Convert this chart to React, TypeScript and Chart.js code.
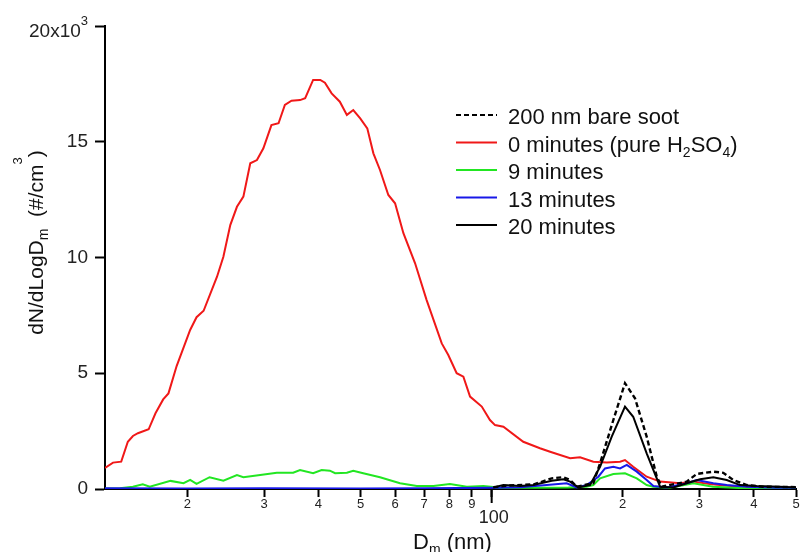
import React, { useEffect, useRef } from 'react';
import { Chart, registerables } from 'chart.js';

Chart.register(...registerables);

const FONT = '"Liberation Sans", Arial, Helvetica, sans-serif';

// ---- axis ticks ----
const xTickValues = [20, 30, 40, 50, 60, 70, 80, 90, 100, 200, 300, 400, 500];
const yTickValues = [0, 5, 10, 15, 20];
const xMin = 12.94;
const xMax = 500;

// ---- data (D in nm, dN/dlogD in units of 10^3 #/cm3) ----
const redD = [12.94, 13.5, 14.1, 14.6, 15.0, 15.4, 16.3, 16.9, 17.6, 18.1, 18.9, 20.3, 21.0, 21.8, 23.4, 24.2, 25.1, 26.0, 26.9, 27.9, 28.9, 29.9, 31.2, 32.4, 33.5, 34.7, 36.3, 37.3, 38.9, 40.4, 41.4, 42.9, 44.8, 46.5, 48.1, 49.9, 51.8, 53.5, 55.4, 57.9, 60.0, 62.7, 66.7, 70.9, 76.8, 79.5, 83.1, 86.1, 89.2, 94.9, 99.1, 101.8, 106.4, 118.2, 129.1, 136.2, 151.4, 159.6, 171.2, 183.8, 197.2, 202.4, 211.4, 227.0, 243.7, 270.8, 290.0, 320, 360, 420, 500];
const redN = [0.91, 1.14, 1.18, 2.04, 2.29, 2.41, 2.58, 3.27, 3.87, 4.13, 5.31, 6.87, 7.42, 7.70, 9.17, 10.03, 11.40, 12.19, 12.63, 14.07, 14.21, 14.72, 15.72, 15.80, 16.59, 16.77, 16.80, 16.88, 17.67, 17.67, 17.55, 17.09, 16.73, 16.16, 16.37, 16.01, 15.58, 14.50, 13.78, 12.70, 12.34, 11.05, 9.75, 8.16, 6.29, 5.79, 5.00, 4.85, 3.99, 3.56, 2.98, 2.76, 2.69, 2.04, 1.76, 1.61, 1.33, 1.37, 1.18, 1.14, 1.18, 1.25, 0.96, 0.53, 0.32, 0.25, 0.32, 0.2, 0.12, 0.08, 0.05];

const greenD = [12.94, 14.0, 15.0, 15.8, 16.4, 18.3, 19.6, 20.3, 21.0, 22.5, 24.2, 26.0, 26.9, 29.4, 32.1, 35.0, 36.3, 38.9, 40.7, 42.5, 43.7, 46.5, 48.1, 50.7, 55.4, 61.6, 67.3, 73.5, 80.2, 87.7, 95.7, 105, 125, 150, 165, 171.2, 177.4, 190.3, 202.4, 215.4, 227.0, 234.8, 256.8, 290.6, 322.4, 380, 500];
const greenN = [0.02, 0.03, 0.1, 0.2, 0.1, 0.35, 0.25, 0.39, 0.22, 0.51, 0.36, 0.60, 0.51, 0.60, 0.70, 0.70, 0.82, 0.68, 0.82, 0.79, 0.68, 0.70, 0.79, 0.68, 0.51, 0.25, 0.13, 0.13, 0.22, 0.1, 0.13, 0.05, 0.05, 0.06, 0.1, 0.17, 0.46, 0.65, 0.68, 0.46, 0.17, 0.1, 0.05, 0.25, 0.1, 0.03, 0.02];

const blueD = [12.94, 20, 30, 50, 70, 100, 116.2, 133.8, 148.7, 156.8, 165.3, 175.8, 182.1, 190.3, 197.2, 204.3, 215.4, 227.0, 235.2, 252.4, 280.5, 295.8, 322.9, 346.6, 385.5, 450, 500];
const blueN = [0.03, 0.02, 0.03, 0.02, 0.03, 0.05, 0.08, 0.17, 0.25, 0.07, 0.17, 0.53, 0.89, 0.96, 0.89, 1.04, 0.75, 0.39, 0.13, 0.07, 0.25, 0.39, 0.25, 0.17, 0.1, 0.05, 0.05];

const blackD = [100.9, 106.4, 116.2, 124.6, 137.4, 146.1, 151.4, 158.1, 168.2, 177.4, 188.7, 202.4, 211.4, 227.0, 243.7, 261.4, 280.5, 301.1, 322.9, 346.6, 372.0, 406.2, 459.6, 500];
const blackN = [0.07, 0.17, 0.13, 0.17, 0.36, 0.42, 0.32, 0.07, 0.17, 0.96, 2.26, 3.56, 3.12, 1.54, 0.1, 0.07, 0.25, 0.42, 0.51, 0.39, 0.17, 0.13, 0.1, 0.07];

const sootD = [100.9, 110, 125, 137.4, 146.1, 151.4, 156.8, 171.2, 177.4, 190.3, 202.4, 213.4, 227.0, 239.5, 245.8, 280.5, 295.8, 322.9, 340.4, 358.9, 385.5, 420, 500];
const sootN = [0.08, 0.15, 0.2, 0.46, 0.51, 0.39, 0.1, 0.25, 1.11, 2.98, 4.57, 3.92, 2.26, 0.53, 0.1, 0.32, 0.65, 0.75, 0.70, 0.39, 0.17, 0.1, 0.08];

const RED = '#f01818';
const GREEN = '#22e622';
const BLUE = '#1818e8';
const BLACK = '#000000';

type Seg = { t: string; s: number; dy: number };

const legendItems: { segs: Seg[]; color: string; dash: number[] }[] = [
  { segs: [{ t: '200 nm bare soot', s: 22, dy: 0 }], color: BLACK, dash: [5, 3] },
  {
    segs: [
      { t: '0 minutes (pure H', s: 22, dy: 0 },
      { t: '2', s: 14, dy: 5 },
      { t: 'SO', s: 22, dy: 0 },
      { t: '4', s: 14, dy: 5 },
      { t: ')', s: 22, dy: 0 },
    ],
    color: RED,
    dash: [],
  },
  { segs: [{ t: '9 minutes', s: 22, dy: 0 }], color: GREEN, dash: [] },
  { segs: [{ t: '13 minutes', s: 22, dy: 0 }], color: BLUE, dash: [] },
  { segs: [{ t: '20 minutes', s: 22, dy: 0 }], color: BLACK, dash: [] },
];

const yTitle: Seg[] = [
  { t: 'dN/dLogD', s: 21, dy: 0 },
  { t: 'm', s: 14, dy: 5 },
  { t: '  (#/cm', s: 21, dy: 0 },
  { t: '3', s: 13, dy: -21 },
  { t: ')', s: 21, dy: 0 },
];
const xTitle: Seg[] = [
  { t: 'D', s: 22, dy: 0 },
  { t: 'm', s: 14, dy: 5 },
  { t: ' (nm)', s: 22, dy: 0 },
];
const yTopLabel: Seg[] = [
  { t: '20x10', s: 19, dy: 0 },
  { t: '3', s: 13, dy: -12 },
];

function richWidth(ctx: CanvasRenderingContext2D, segs: Seg[]) {
  let w = 0;
  for (const g of segs) {
    ctx.font = `${g.s}px ${FONT}`;
    w += ctx.measureText(g.t).width;
  }
  return w;
}
function drawRich(ctx: CanvasRenderingContext2D, segs: Seg[], x: number, y: number) {
  let cx = x;
  for (const g of segs) {
    ctx.font = `${g.s}px ${FONT}`;
    ctx.fillText(g.t, cx, y + g.dy);
    cx += ctx.measureText(g.t).width;
  }
}

const pts = (xs: number[], ys: number[]) => xs.map((x, i) => ({ x, y: ys[i] }));

const annotatePlugin = {
  id: 'annotate',
  afterDraw(chart: any) {
    const ctx: CanvasRenderingContext2D = chart.ctx;
    const xs = chart.scales.x;
    const ys = chart.scales.y;
    const area = chart.chartArea;
    ctx.save();
    ctx.fillStyle = '#111';
    ctx.textAlign = 'left';
    ctx.textBaseline = 'alphabetic';

    // longer major tick at 100
    const x100 = xs.getPixelForValue(100);
    ctx.strokeStyle = '#000';
    ctx.lineWidth = 2;
    ctx.beginPath();
    ctx.moveTo(x100, area.bottom);
    ctx.lineTo(x100, area.bottom + 14);
    ctx.stroke();

    // "100" label
    ctx.font = `18px ${FONT}`;
    ctx.textAlign = 'center';
    ctx.fillStyle = '#222';
    ctx.fillText('100', x100 + 2, area.bottom + 34);
    ctx.textAlign = 'left';

    // top y label 20x10^3
    const y20 = ys.getPixelForValue(20);
    const wTop = richWidth(ctx, yTopLabel);
    drawRich(ctx, yTopLabel, 88 - wTop, y20 + 11);

    // x title
    ctx.fillStyle = '#111';
    const wx = richWidth(ctx, xTitle);
    drawRich(ctx, xTitle, (area.left + area.right) / 2 + 2 - wx / 2, 549);

    // y title rotated
    const wy = richWidth(ctx, yTitle);
    ctx.save();
    ctx.translate(43, (area.top + area.bottom) / 2 - 15);
    ctx.rotate(-Math.PI / 2);
    drawRich(ctx, yTitle, -wy / 2, 0);
    ctx.restore();

    // legend
    legendItems.forEach((it, i) => {
      const ly = 115 + i * 27.5;
      ctx.strokeStyle = it.color;
      ctx.lineWidth = 2;
      ctx.setLineDash(it.dash);
      ctx.beginPath();
      ctx.moveTo(456, ly);
      ctx.lineTo(497, ly);
      ctx.stroke();
      ctx.setLineDash([]);
      ctx.fillStyle = '#111';
      drawRich(ctx, it.segs, 508, ly + 9);
    });
    ctx.restore();
  },
};

export default function App() {
  const ref = useRef<HTMLCanvasElement>(null);
  useEffect(() => {
    document.body.style.margin = '0';
    const common = { pointRadius: 0, borderWidth: 2, tension: 0, fill: false };
    const chart = new Chart(ref.current as HTMLCanvasElement, {
      type: 'line',
      data: {
        datasets: [
          { ...common, label: '20 minutes', data: pts(blackD, blackN), borderColor: BLACK },
          { ...common, label: '200 nm bare soot', data: pts(sootD, sootN), borderColor: BLACK, borderDash: [5, 3], borderWidth: 2.4 },
          { ...common, label: '13 minutes', data: pts(blueD, blueN), borderColor: BLUE },
          { ...common, label: '9 minutes', data: pts(greenD, greenN), borderColor: GREEN },
          { ...common, label: '0 minutes (pure H2SO4)', data: pts(redD, redN), borderColor: RED },
        ],
      } as any,
      options: {
        animation: false,
        responsive: false,
        devicePixelRatio: 1,
        layout: { padding: { top: 26, right: 6, left: 0, bottom: 0 } },
        plugins: { legend: { display: false }, tooltip: { enabled: false } },
        scales: {
          x: {
            type: 'logarithmic',
            min: xMin,
            max: xMax,
            afterBuildTicks: (s: any) => {
              s.ticks = xTickValues.map((v) => ({ value: v }));
            },
            afterFit: (s: any) => {
              s.height = 63;
            },
            ticks: {
              autoSkip: false,
              maxRotation: 0,
              minRotation: 0,
              padding: 0,
              color: '#222',
              font: { family: FONT, size: 13 },
              callback: (v: any) => {
                const n = Number(v);
                if (n === 100) return '';
                const e = Math.pow(10, Math.floor(Math.log10(n) + 1e-9));
                return String(Math.round(n / e));
              },
            },
            grid: { display: true, drawOnChartArea: false, drawTicks: true, tickLength: 8, tickWidth: 2, tickColor: '#000' },
            border: { display: true, color: '#000', width: 2 },
          },
          y: {
            type: 'linear',
            min: 0,
            max: 20,
            afterBuildTicks: (s: any) => {
              s.ticks = yTickValues.map((v) => ({ value: v }));
            },
            afterFit: (s: any) => {
              s.width = 105;
            },
            ticks: {
              padding: 7,
              color: '#222',
              font: { family: FONT, size: 19 },
              callback: (v: any) => (Number(v) === 20 ? '' : String(v)),
            },
            grid: { display: true, drawOnChartArea: false, drawTicks: true, tickLength: 10, tickWidth: 2, tickColor: '#000' },
            border: { display: true, color: '#000', width: 2 },
          },
        },
      } as any,
      plugins: [annotatePlugin],
    });
    return () => chart.destroy();
  }, []);
  return (
    <div style={{ width: 802, height: 552 }}>
      <canvas ref={ref} width={802} height={552} style={{ display: 'block', width: 802, height: 552 }} />
    </div>
  );
}
